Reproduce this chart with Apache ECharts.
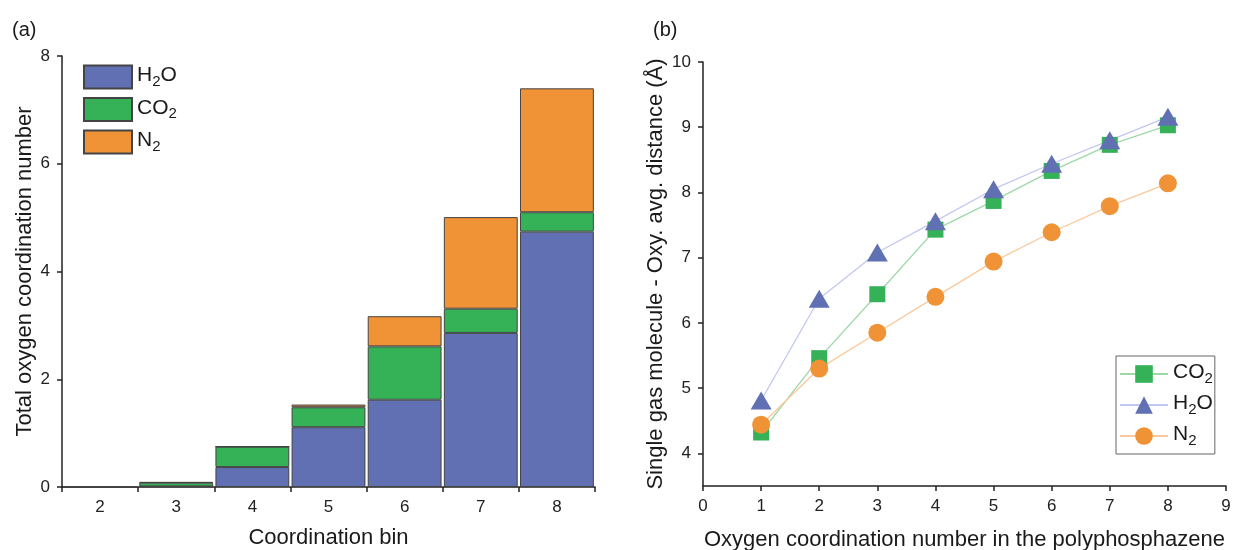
<!DOCTYPE html>
<html>
<head>
<meta charset="UTF-8">
<script src="https://cdn.jsdelivr.net/npm/echarts@6/dist/echarts.min.js"></script>
<style>
  html, body { margin: 0; padding: 0; background: #fff; }
  #chart { width: 1236px; height: 550px; }
</style>
</head>
<body>
<div id="chart"></div>
<script>
// (a) stacked bars
var bins = ['2', '3', '4', '5', '6', '7', '8'];
var barH2O = [0, 0.01, 0.37, 1.11, 1.62, 2.86, 4.74];
var barCO2 = [0, 0.07, 0.38, 0.37, 0.99, 0.45, 0.36];
var barN2 = [0, 0.01, 0, 0.05, 0.56, 1.70, 2.30];

// (b) distance vs coordination number
var coordNums = [1, 2, 3, 4, 5, 6, 7, 8];
var distCO2 = [4.32, 5.46, 6.44, 7.43, 7.87, 8.33, 8.73, 9.03];
var distH2O = [4.81, 6.37, 7.08, 7.56, 8.05, 8.44, 8.80, 9.16];
var distN2 = [4.44, 5.30, 5.85, 6.40, 6.94, 7.39, 7.79, 8.14];
var yTicksB = [4, 5, 6, 7, 8, 9, 10];

var blue = '#6170b3', green = '#35b257', orange = '#f09236';
var font = 'Liberation Sans, Arial, sans-serif';
var ink = '#1a1a1a';

// legend names with subscripts
var labels = {
    'H2O': '{t|H}{s|2}{t|O}',
    'CO2': '{t|CO}{s|2}',
    'N2': '{t|N}{s|2}'
};
var legendRich = {
    t: { fontSize: 21, fontFamily: font, color: ink, lineHeight: 24, verticalAlign: 'top' },
    s: { fontSize: 15, fontFamily: font, color: ink, lineHeight: 15, verticalAlign: 'bottom', padding: [11, 0, 0, 0] }
};

function axisStyle() {
    return {
        axisLine: { show: true, lineStyle: { color: '#222', width: 1.5 } },
        axisTick: { show: true, inside: false, length: 5, lineStyle: { color: '#222', width: 1.5 } },
        axisLabel: { color: '#222', fontSize: 17, fontFamily: font, margin: 12 },
        splitLine: { show: false },
        nameTextStyle: { color: ink, fontSize: 22, fontFamily: font }
    };
}

var chart = echarts.init(document.getElementById('chart'));

var xA = axisStyle(), yA = axisStyle(), xB = axisStyle(), yB = axisStyle();

var option = {
    animation: false,
    backgroundColor: '#fff',
    textStyle: { fontFamily: font },
    title: [
        { text: '(a)', left: 7, top: 15, textStyle: { fontSize: 20, fontWeight: 'normal', color: ink, fontFamily: font } },
        { text: '(b)', left: 648, top: 15, textStyle: { fontSize: 20, fontWeight: 'normal', color: ink, fontFamily: font } }
    ],
    grid: [
        { left: 62, right: 641, top: 56, bottom: 63, outerBoundsMode: 'none', containLabel: false },
        { left: 703, right: 10, top: 62, bottom: 64, outerBoundsMode: 'none', containLabel: false }
    ],
    legend: [
        {
            data: ['H2O', 'CO2', 'N2'],
            orient: 'vertical', left: 78, top: 58,
            icon: 'rect',
            itemWidth: 48, itemHeight: 23, itemGap: 6,
            formatter: function (n) { return labels[n]; },
            textStyle: { rich: legendRich }
        },
        {
            data: ['CO2 ', 'H2O ', 'N2 '],
            orient: 'vertical', left: 1116, top: 356,
            itemWidth: 48, itemHeight: 22, itemGap: 5,
            padding: [4, 2, 6, 3],
            borderColor: '#666', borderWidth: 1,
            formatter: function (n) { return labels[n.trim()]; },
            textStyle: { rich: legendRich }
        }
    ],
    xAxis: [
        Object.assign(xA, {
            type: 'category', gridIndex: 0, data: bins,
            name: 'Coordination bin', nameLocation: 'middle', nameGap: 40
        }),
        Object.assign(xB, {
            type: 'value', gridIndex: 1, min: 0, max: 9, interval: 1,
            name: 'Oxygen coordination number in the polyphosphazene', nameLocation: 'middle', nameGap: 43
        })
    ],
    yAxis: [
        Object.assign(yA, {
            type: 'value', gridIndex: 0, min: 0, max: 8, interval: 2,
            name: 'Total oxygen coordination number', nameLocation: 'middle', nameGap: 26
        }),
        Object.assign(yB, {
            type: 'value', gridIndex: 1, min: 3.5, max: 10,
            name: 'Single gas molecule - Oxy. avg. distance (Å)', nameLocation: 'middle', nameGap: 36
        })
    ],
    series: []
};

option.yAxis[1].axisLabel.customValues = yTicksB;
option.yAxis[1].axisTick.customValues = yTicksB;

function barSeries(name, data, color) {
    return {
        name: name, type: 'bar', stack: 'total', xAxisIndex: 0, yAxisIndex: 0,
        data: data, barCategoryGap: '3%',
        itemStyle: { color: color, borderColor: '#444', borderWidth: 1 }
    };
}
function lineSeries(name, data, color, lineColor, symbol, size) {
    return {
        name: name, type: 'line', xAxisIndex: 1, yAxisIndex: 1,
        data: coordNums.map(function (x, i) { return [x, data[i]]; }),
        symbol: symbol, symbolSize: size,
        itemStyle: { color: color },
        lineStyle: { color: lineColor, width: 1.3 }
    };
}

option.series.push(barSeries('H2O', barH2O, blue));
option.series.push(barSeries('CO2', barCO2, green));
option.series.push(barSeries('N2', barN2, orange));
option.series.push(lineSeries('CO2 ', distCO2, green, '#9ed8a8', 'rect', 16));
option.series.push(lineSeries('H2O ', distH2O, blue, '#c2c7f2', 'triangle', [21, 18]));
option.series.push(lineSeries('N2 ', distN2, orange, '#f9c99c', 'circle', 18));

chart.setOption(option);
</script>
</body>
</html>
